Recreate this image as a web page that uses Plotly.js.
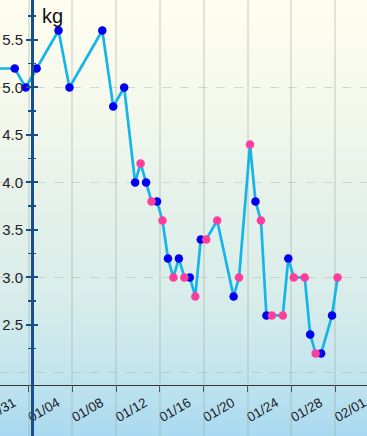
<!DOCTYPE html>
<html>
<head>
<meta charset="utf-8">
<script src="https://cdn.plot.ly/plotly-3.0.1.min.js"></script>
<style>
  html, body { margin: 0; padding: 0; }
  body {
    width: 367px; height: 436px; overflow: hidden;
    background: linear-gradient(to bottom, #fffdf0 0%, #f4f8ec 25%, #e6f1ea 45%, #d8edea 68%, #c4e5ee 85%, #a9d9f0 100%);
  }
  #chart { width: 400px; height: 436px; }
</style>
</head>
<body>
<div id="chart"></div>
<script>
// Morning-type readings (blue dots)
const blueTimes = [
  "2014-12-27 17:30", "2014-12-29 17:30", "2014-12-30 17:30", "2014-12-31 17:30",
  "2015-01-02 17:30", "2015-01-03 17:30", "2015-01-06 17:30", "2015-01-07 17:30",
  "2015-01-08 17:30", "2015-01-09 17:30", "2015-01-10 17:30", "2015-01-11 17:30",
  "2015-01-12 17:30", "2015-01-13 17:30", "2015-01-14 17:30", "2015-01-15 17:30",
  "2015-01-18 17:30", "2015-01-20 17:30", "2015-01-21 17:30", "2015-01-23 17:30",
  "2015-01-25 17:30", "2015-01-26 17:30", "2015-01-27 17:30"
];
const blueValues = [
  5.2, 5.2, 5.0, 5.2,
  5.6, 5.0, 5.6, 4.8,
  5.0, 4.0, 4.0, 3.8,
  3.2, 3.2, 3.0, 3.4,
  2.8, 3.8, 2.6, 3.2,
  2.4, 2.2, 2.6
];
// Other readings (pink dots)
const pinkTimes = [
  "2015-01-10 05:30", "2015-01-11 05:30", "2015-01-12 05:30", "2015-01-13 05:30",
  "2015-01-14 05:30", "2015-01-15 05:30", "2015-01-16 05:30", "2015-01-17 05:30",
  "2015-01-19 05:30", "2015-01-20 05:30", "2015-01-21 05:30", "2015-01-22 05:30",
  "2015-01-23 05:30", "2015-01-24 05:30", "2015-01-25 05:30", "2015-01-26 05:30",
  "2015-01-28 05:30"
];
const pinkValues = [
  4.2, 3.8, 3.6, 3.0,
  3.0, 2.8, 3.4, 3.6,
  3.0, 4.4, 3.6, 2.6,
  2.6, 3.0, 3.0, 2.2,
  3.0
];
const yMajorTicks = [2.5, 3.0, 3.5, 4.0, 4.5, 5.0, 5.5];
const yTickLabels = ["2.5", "3.0", "3.5", "4.0", "4.5", "5.0", "5.5"];
const yMinorTicks = [2.25, 2.75, 3.25, 3.75, 4.25, 4.75, 5.25, 5.75];
const yGridValues = [2, 3, 4, 5];
const unitLabel = "kg";

// merged chronological series for the connecting line
const all = blueTimes.map((t, i) => ({t, v: blueValues[i]}))
  .concat(pinkTimes.map((t, i) => ({t, v: pinkValues[i]})))
  .sort((a, b) => new Date(a.t.replace(' ', 'T')) - new Date(b.t.replace(' ', 'T')));

const W = 400, H = 436;
const yRange = [1.868, 5.921];
const xRange = ["2014-12-28 09:07", "2015-02-02 22:30"];
const axisBlue = "#174f8c";
const yPos = 32 / W;
const xAxisFrac = (H - 385) / H;

const traces = [
  { x: all.map(p => p.t), y: all.map(p => p.v), mode: "lines", type: "scatter",
    line: { color: "#16b5e8", width: 2.7 }, hoverinfo: "skip", xaxis: "x", yaxis: "y" },
  { x: blueTimes, y: blueValues, mode: "markers", type: "scatter",
    marker: { color: "#0000ee", size: 8.5 }, hoverinfo: "skip", xaxis: "x", yaxis: "y" },
  { x: pinkTimes, y: pinkValues, mode: "markers", type: "scatter",
    marker: { color: "#ff3d9c", size: 8.5 }, hoverinfo: "skip", xaxis: "x", yaxis: "y" },
  { x: [], y: [], type: "scatter", mode: "lines", xaxis: "x", yaxis: "y2", hoverinfo: "skip" },
  { x: [], y: [], type: "scatter", mode: "lines", xaxis: "x", yaxis: "y3", hoverinfo: "skip" },
  { x: [], y: [], type: "scatter", mode: "lines", xaxis: "x", yaxis: "y4", hoverinfo: "skip" }
];

const font = { family: "Liberation Sans, Arial, sans-serif", color: "#222", size: 15 };

const layout = {
  width: W, height: H,
  margin: { l: 0, r: 0, t: 0, b: 0, pad: 0 },
  paper_bgcolor: "rgba(0,0,0,0)", plot_bgcolor: "rgba(0,0,0,0)",
  showlegend: false,
  font: font,
  xaxis: {
    type: "date", domain: [0, 1], anchor: "y", range: xRange,
    tick0: "2014-12-31", dtick: 4 * 86400000, tickformat: "%m/%d",
    tickangle: -30, tickfont: { size: 13.5, color: "#1a1a1a" },
    ticklabelshift: -15, ticklabelstandoff: -2, ticklabeloverflow: "allow",
    showline: true, linecolor: "#333", linewidth: 1,
    ticks: "outside", ticklen: 6, tickwidth: 1, tickcolor: "#333",
    showgrid: true, gridcolor: "rgba(160,172,160,0.3)", gridwidth: 2,
    zeroline: false, fixedrange: true
  },
  yaxis: {
    domain: [xAxisFrac, 1], range: yRange, anchor: "free", position: yPos,
    tickvals: yMajorTicks, ticktext: yTickLabels, tickfont: { size: 15, color: "#222" },
    ticks: "outside", ticklen: 5, tickwidth: 2, tickcolor: axisBlue,
    minor: { tickvals: yMinorTicks, ticks: "outside", ticklen: 3, tickwidth: 1.5, tickcolor: axisBlue, showgrid: false },
    showline: true, linecolor: axisBlue, linewidth: 2.5,
    showgrid: false, zeroline: false, fixedrange: true
  },
  yaxis2: {
    overlaying: "y", range: yRange, anchor: "free", position: yPos,
    tickvals: yMajorTicks, showticklabels: false,
    ticks: "inside", ticklen: 5, tickwidth: 2, tickcolor: axisBlue,
    minor: { tickvals: yMinorTicks, ticks: "inside", ticklen: 3, tickwidth: 1.5, tickcolor: axisBlue, showgrid: false },
    showline: false, showgrid: false, zeroline: false, fixedrange: true
  },
  yaxis3: {
    overlaying: "y", range: yRange, anchor: "free", position: yPos,
    tickvals: yGridValues, showticklabels: false, ticks: "",
    showgrid: true, gridcolor: "rgba(160,170,160,0.4)", gridwidth: 1, griddash: "dash",
    showline: false, zeroline: false, fixedrange: true
  },
  yaxis4: {
    domain: [0, xAxisFrac], range: [0, 1], anchor: "free", position: yPos,
    showticklabels: false, ticks: "", showgrid: false, zeroline: false,
    showline: true, linecolor: axisBlue, linewidth: 2.5, fixedrange: true
  },
  annotations: [
    { text: unitLabel, xref: "paper", yref: "paper", x: 40 / W, y: 1 - 3 / H,
      xanchor: "left", yanchor: "top", showarrow: false,
      font: { size: 20, color: "#111", family: "Liberation Sans, Arial, sans-serif" } }
  ]
};

Plotly.newPlot("chart", traces, layout, { displayModeBar: false, staticPlot: true });
</script>
</body>
</html>
